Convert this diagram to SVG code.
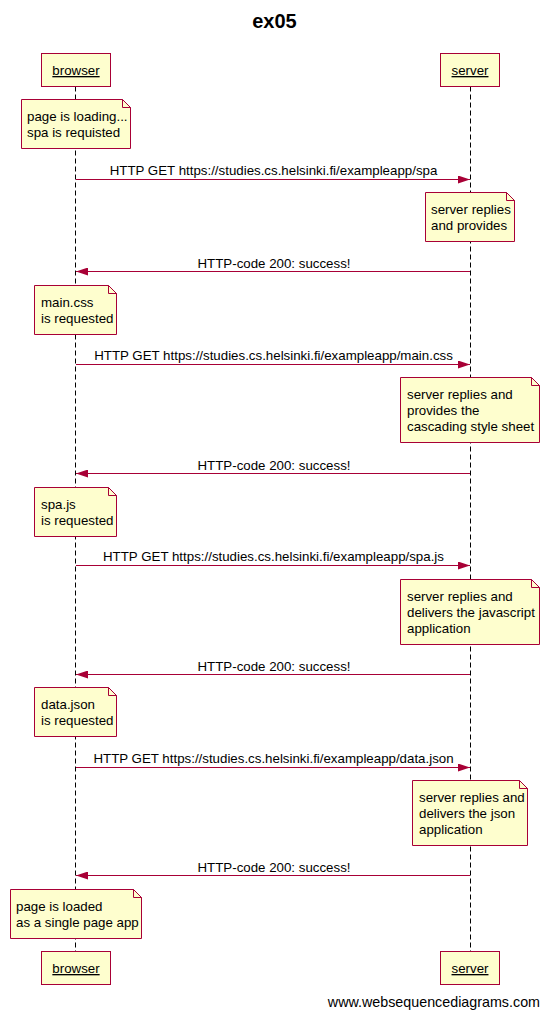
<svg xmlns="http://www.w3.org/2000/svg" width="549" height="1019" viewBox="0 0 549 1019">
<defs>
<style>
text{font-family:"Liberation Sans",Arial,sans-serif;fill:#000}
.title{font-size:20px;font-weight:bold;text-anchor:middle}
.actor rect{fill:#fefece;stroke:#a80036;stroke-width:1}
.actor text{font-size:13.3px;text-anchor:middle;text-decoration:underline}
.life{stroke:#000;stroke-width:1;stroke-dasharray:5,3;fill:none}
.note path.body{fill:#fefece;stroke:#a80036;stroke-width:1}
.note path.fold{fill:#fefece;stroke:#a80036;stroke-width:1}
.note text{font-size:13.3px}
.msg line{stroke:#a80036;stroke-width:1}
.msg text{font-size:13.3px;text-anchor:middle}
.foot{font-size:14.3px;text-anchor:end}
</style>
<marker id="ah" viewBox="0 0 12 8" refX="12" refY="4" markerWidth="12" markerHeight="8" markerUnits="userSpaceOnUse" orient="auto">
<path d="M0,0 L12,4 L0,8 Z" fill="#a80036"/>
</marker>
</defs>
<rect width="549" height="1019" fill="#fff"/>
<text class="title" x="274.5" y="28">ex05</text>

<g id="lifelines">
<line class="life" x1="75.5" y1="86.5" x2="75.5" y2="951"/>
<line class="life" x1="470.5" y1="86.5" x2="470.5" y2="951"/>
</g>

<g id="browser-top" class="actor"><rect x="41.5" y="53.5" width="69" height="33"/><text x="76" y="75">browser</text></g>
<g id="server-top" class="actor"><rect x="440.5" y="53.5" width="59" height="33"/><text x="470" y="75">server</text></g>
<g id="browser-bottom" class="actor"><rect x="41.5" y="951.5" width="69" height="33"/><text x="76" y="973">browser</text></g>
<g id="server-bottom" class="actor"><rect x="440.5" y="951.5" width="59" height="33"/><text x="470" y="973">server</text></g>

<g id="note1" class="note"><path class="body" d="M21.5,99.5 H122.5 L130.5,107.5 V148.5 H21.5 Z"/><path class="fold" d="M122.5,99.5 V107.5 H130.5 Z"/><text x="27" y="121">page is loading...</text><text x="27" y="137">spa is requisted</text></g>
<g id="note2" class="note"><path class="body" d="M425.5,192.5 H506.5 L514.5,200.5 V241.5 H425.5 Z"/><path class="fold" d="M506.5,192.5 V200.5 H514.5 Z"/><text x="431" y="214">server replies</text><text x="431" y="230">and provides</text></g>
<g id="note3" class="note"><path class="body" d="M34.5,285.5 H108.5 L116.5,293.5 V334.5 H34.5 Z"/><path class="fold" d="M108.5,285.5 V293.5 H116.5 Z"/><text x="41" y="307">main.css</text><text x="41" y="323">is requested</text></g>
<g id="note4" class="note"><path class="body" d="M400.5,377.5 H531.5 L539.5,385.5 V442.5 H400.5 Z"/><path class="fold" d="M531.5,377.5 V385.5 H539.5 Z"/><text x="407" y="399">server replies and</text><text x="407" y="415">provides the</text><text x="407" y="431">cascading style sheet</text></g>
<g id="note5" class="note"><path class="body" d="M34.5,487.5 H108.5 L116.5,495.5 V536.5 H34.5 Z"/><path class="fold" d="M108.5,487.5 V495.5 H116.5 Z"/><text x="41" y="509">spa.js</text><text x="41" y="525">is requested</text></g>
<g id="note6" class="note"><path class="body" d="M400.5,579.5 H531.5 L539.5,587.5 V644.5 H400.5 Z"/><path class="fold" d="M531.5,579.5 V587.5 H539.5 Z"/><text x="407" y="601">server replies and</text><text x="407" y="617">delivers the javascript</text><text x="407" y="633">application</text></g>
<g id="note7" class="note"><path class="body" d="M34.5,687.5 H108.5 L116.5,695.5 V736.5 H34.5 Z"/><path class="fold" d="M108.5,687.5 V695.5 H116.5 Z"/><text x="41" y="709">data.json</text><text x="41" y="725">is requested</text></g>
<g id="note8" class="note"><path class="body" d="M412.5,780.5 H519.5 L527.5,788.5 V845.5 H412.5 Z"/><path class="fold" d="M519.5,780.5 V788.5 H527.5 Z"/><text x="419" y="802">server replies and</text><text x="419" y="818">delivers the json</text><text x="419" y="834">application</text></g>
<g id="note9" class="note"><path class="body" d="M10.5,889.5 H133.5 L141.5,897.5 V938.5 H10.5 Z"/><path class="fold" d="M133.5,889.5 V897.5 H141.5 Z"/><text x="16" y="911">page is loaded</text><text x="16" y="927">as a single page app</text></g>

<g id="connectors" class="msg">
<line x1="76" y1="179.5" x2="470" y2="179.5" marker-end="url(#ah)"/><text x="273.5" y="175">HTTP GET https://studies.cs.helsinki.fi/exampleapp/spa</text>
<line x1="470" y1="271.5" x2="76" y2="271.5" marker-end="url(#ah)"/><text x="274" y="268">HTTP-code 200: success!</text>
<line x1="76" y1="364.5" x2="470" y2="364.5" marker-end="url(#ah)"/><text x="273.5" y="360">HTTP GET https://studies.cs.helsinki.fi/exampleapp/main.css</text>
<line x1="470" y1="473.5" x2="76" y2="473.5" marker-end="url(#ah)"/><text x="274" y="470">HTTP-code 200: success!</text>
<line x1="76" y1="565.5" x2="470" y2="565.5" marker-end="url(#ah)"/><text x="273.5" y="561">HTTP GET https://studies.cs.helsinki.fi/exampleapp/spa.js</text>
<line x1="470" y1="674.5" x2="76" y2="674.5" marker-end="url(#ah)"/><text x="274" y="671">HTTP-code 200: success!</text>
<line x1="76" y1="767.5" x2="470" y2="767.5" marker-end="url(#ah)"/><text x="273.5" y="763">HTTP GET https://studies.cs.helsinki.fi/exampleapp/data.json</text>
<line x1="470" y1="875.5" x2="76" y2="875.5" marker-end="url(#ah)"/><text x="274" y="872">HTTP-code 200: success!</text>
</g>

<text class="foot" x="540" y="1007">www.websequencediagrams.com</text>
</svg>
